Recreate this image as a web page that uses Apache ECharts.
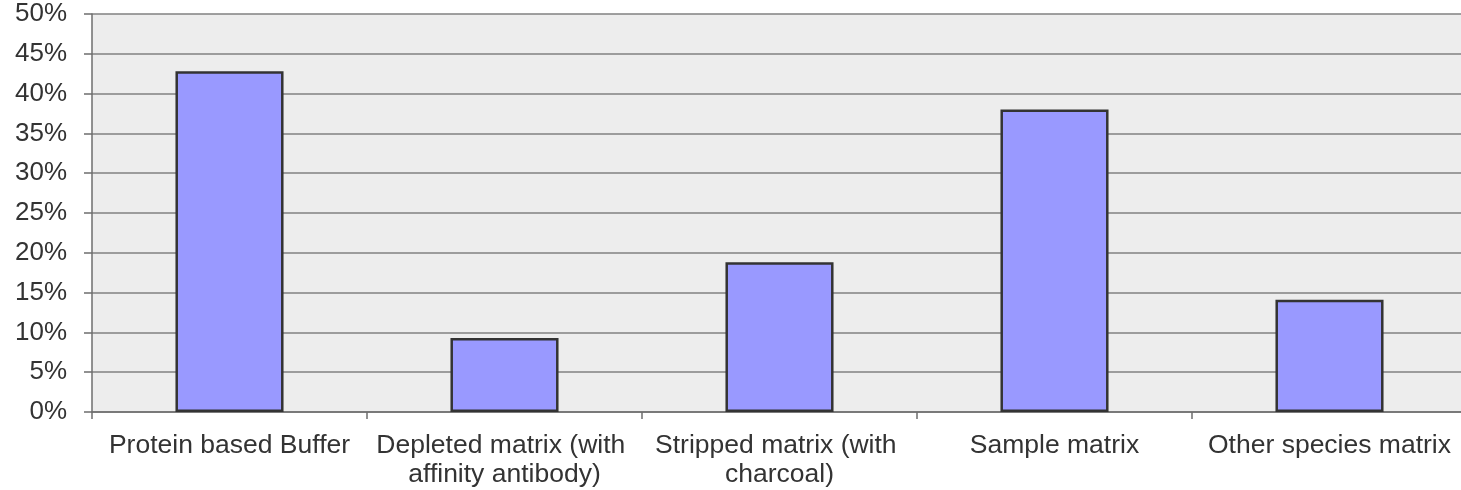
<!DOCTYPE html>
<html>
<head>
<meta charset="utf-8">
<script src="https://cdn.jsdelivr.net/npm/echarts@6/dist/echarts.min.js"></script>
<style>
  html, body { margin: 0; padding: 0; background: #ffffff; overflow: hidden; }
  /* the plot runs a few pixels past the right edge of the window */
  #chart { width: 1467px; height: 490px; }
</style>
</head>
<body>
<div id="chart"></div>
<script>
// Matrix types used for calibration standards
const categories = [
  'Protein based Buffer',
  'Depleted matrix (with affinity antibody)',
  'Stripped matrix (with charcoal)',
  'Sample matrix',
  'Other species matrix'
];

// Share of responses per matrix type (percent)
const shares = [42.8, 9.3, 18.8, 38.0, 14.1];

// Value axis range (percent)
const yMin = 0;
const yMax = 50;
const yStep = 5;

const textColor = '#333333';
const fontFamily = '"Liberation Sans", Arial, sans-serif';

const chart = echarts.init(document.getElementById('chart'), null, { renderer: 'canvas' });

chart.setOption({
  animation: false,
  backgroundColor: '#ffffff',
  grid: {
    left: 92,
    right: 0,
    top: 14,
    bottom: 78,
    containLabel: false,
    outerBoundsMode: 'none',
    show: true,
    backgroundColor: '#ededed',
    borderWidth: 0
  },
  xAxis: {
    type: 'category',
    data: categories,
    boundaryGap: true,
    axisLine: { show: true, lineStyle: { color: '#6e6e6e', width: 1.5 } },
    axisTick: { show: true, length: 7, alignWithLabel: false, lineStyle: { color: '#6e6e6e', width: 1.5 } },
    axisLabel: {
      interval: 0,
      margin: 19,
      color: textColor,
      fontFamily: fontFamily,
      fontSize: 26.5,
      lineHeight: 29,
      width: 270,
      overflow: 'break',
      align: 'center'
    },
    splitLine: { show: false }
  },
  yAxis: {
    type: 'value',
    min: yMin,
    max: yMax,
    interval: yStep,
    axisLine: { show: true, lineStyle: { color: '#6e6e6e', width: 1.5 } },
    axisTick: { show: true, length: 8, lineStyle: { color: '#6e6e6e', width: 1.5 } },
    axisLabel: {
      margin: 25,
      color: textColor,
      fontFamily: fontFamily,
      fontSize: 26,
      formatter: '{value}%'
    },
    splitLine: { show: true, lineStyle: { color: '#808080', width: 1.5 } }
  },
  series: [{
    type: 'bar',
    data: shares,
    barWidth: '39.3%',
    itemStyle: {
      color: '#9999ff',
      borderColor: '#333333',
      borderWidth: 2.5
    }
  }]
});
</script>
</body>
</html>
